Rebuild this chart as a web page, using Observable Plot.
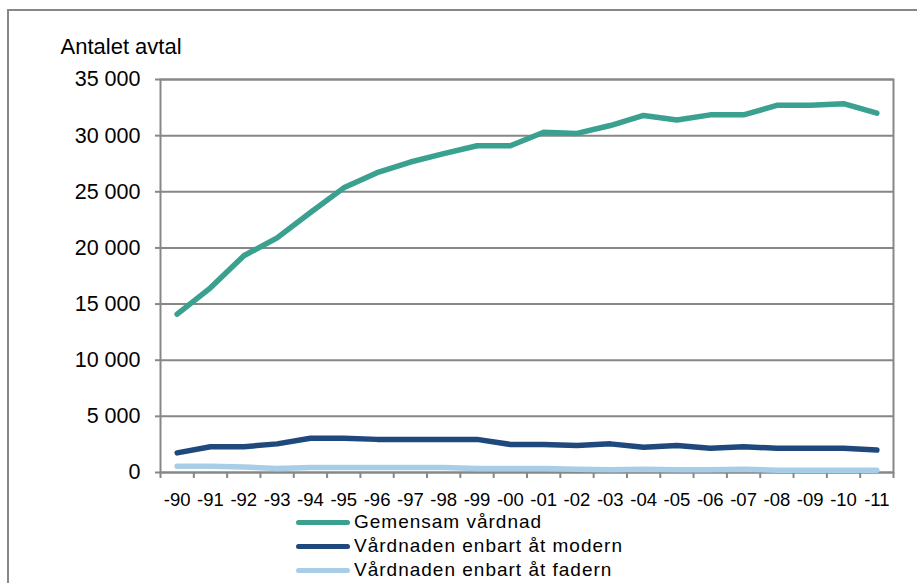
<!DOCTYPE html>
<html>
<head>
<meta charset="utf-8">
<script src="https://cdn.jsdelivr.net/npm/d3@7"></script>
<script src="https://cdn.jsdelivr.net/npm/@observablehq/plot@0.6"></script>
<style>
html, body { margin: 0; padding: 0; width: 917px; height: 583px; overflow: hidden; background: #fff; font-family: "Liberation Sans", Arial, sans-serif; }
#wrap { position: relative; width: 917px; height: 583px; overflow: hidden; }
#border { position: absolute; left: 7px; top: 9px; width: 2000px; height: 2000px; border-left: 2px solid #878787; border-top: 2px solid #878787; }
#chart { position: absolute; left: 0; top: 0; }
#legend { position: absolute; left: 296px; top: 510px; }
.row { display: flex; align-items: center; height: 24px; }
.sw { width: 54px; height: 5px; border-radius: 2.5px; margin-right: 4px; }
.lab { font-size: 19px; line-height: 20px; letter-spacing: 1px; color: #000; white-space: nowrap; }
</style>
</head>
<body>
<div id="wrap">
  <div id="border"></div>
  <div id="chart"></div>
  <div id="legend"></div>
</div>
<script>
const years = ["-90","-91","-92","-93","-94","-95","-96","-97","-98","-99","-00","-01","-02","-03","-04","-05","-06","-07","-08","-09","-10","-11"];
const seriesNames = ["Gemensam vårdnad", "Vårdnaden enbart åt modern", "Vårdnaden enbart åt fadern"];
const gemensam = [14100,16450,19300,20900,23150,25350,26700,27650,28400,29100,29100,30300,30200,30900,31800,31400,31850,31850,32700,32700,32850,32000];
const modern   = [1750,2300,2300,2550,3050,3050,2950,2950,2950,2950,2500,2500,2400,2550,2250,2400,2150,2300,2150,2150,2150,2000];
const fadern   = [550,550,500,350,450,450,450,450,450,350,350,350,300,250,300,250,250,300,200,200,200,200];
const colors = ["#3aa08f", "#1f497d", "#a8cde6"];
const yTicks = [0,5000,10000,15000,20000,25000,30000,35000];
const yLabel = "Antalet avtal";
const gray = "#878787";

const seriesValues = [gemensam, modern, fadern];
const data = [];
seriesNames.forEach((s, k) => seriesValues[k].forEach((v, i) => data.push({series: s, i, value: v})));
const centers = years.map((_, i) => i);
const boundaries = years.map((_, i) => i - 0.5).concat([years.length - 0.5]);
const fmt = d => d3.format(",")(d).replace(/,/g, " ");

const chart = Plot.plot({
  width: 917,
  height: 510,
  marginLeft: 160,
  marginRight: 24,
  marginTop: 79,
  marginBottom: 38,
  style: { fontFamily: '"Liberation Sans", Arial, sans-serif', color: "#000", background: "transparent", overflow: "visible" },
  x: { type: "linear", domain: [-0.5, years.length - 0.5], axis: null },
  y: { domain: [0, 35000], axis: null },
  color: { domain: seriesNames, range: colors },
  marks: [
    Plot.gridY(yTicks, { stroke: gray, strokeOpacity: 1, strokeWidth: 2 }),
    Plot.frame({ stroke: gray, strokeWidth: 2 }),
    Plot.axisY(yTicks, { tickSize: 5, tickPadding: 15, tickFormat: fmt, fontSize: 21.5, stroke: gray, strokeWidth: 2, fill: "#000", label: null }),
    Plot.axisX(boundaries, { tickSize: 6, tickFormat: () => "", stroke: gray, strokeWidth: 2, label: null }),
    Plot.axisX(centers, { tickSize: 0, tickPadding: 20, tickFormat: i => years[i], fontSize: 18.5, fill: "#000", label: null }),
    Plot.lineY(data, { x: "i", y: "value", z: "series", stroke: "series", strokeWidth: 5.5, strokeLinejoin: "round", strokeLinecap: "round" }),
    Plot.text([yLabel], { text: d => d, frameAnchor: "top-left", textAnchor: "start", lineAnchor: "top", dx: -100, dy: -41, fontSize: 22, fill: "#000" })
  ]
});
document.getElementById("chart").appendChild(chart);

const legend = document.getElementById("legend");
seriesNames.forEach((s, k) => {
  const row = document.createElement("div");
  row.className = "row";
  const sw = document.createElement("div");
  sw.className = "sw";
  sw.style.background = colors[k];
  const lab = document.createElement("span");
  lab.className = "lab";
  lab.textContent = s;
  row.appendChild(sw);
  row.appendChild(lab);
  legend.appendChild(row);
});
</script>
</body>
</html>
